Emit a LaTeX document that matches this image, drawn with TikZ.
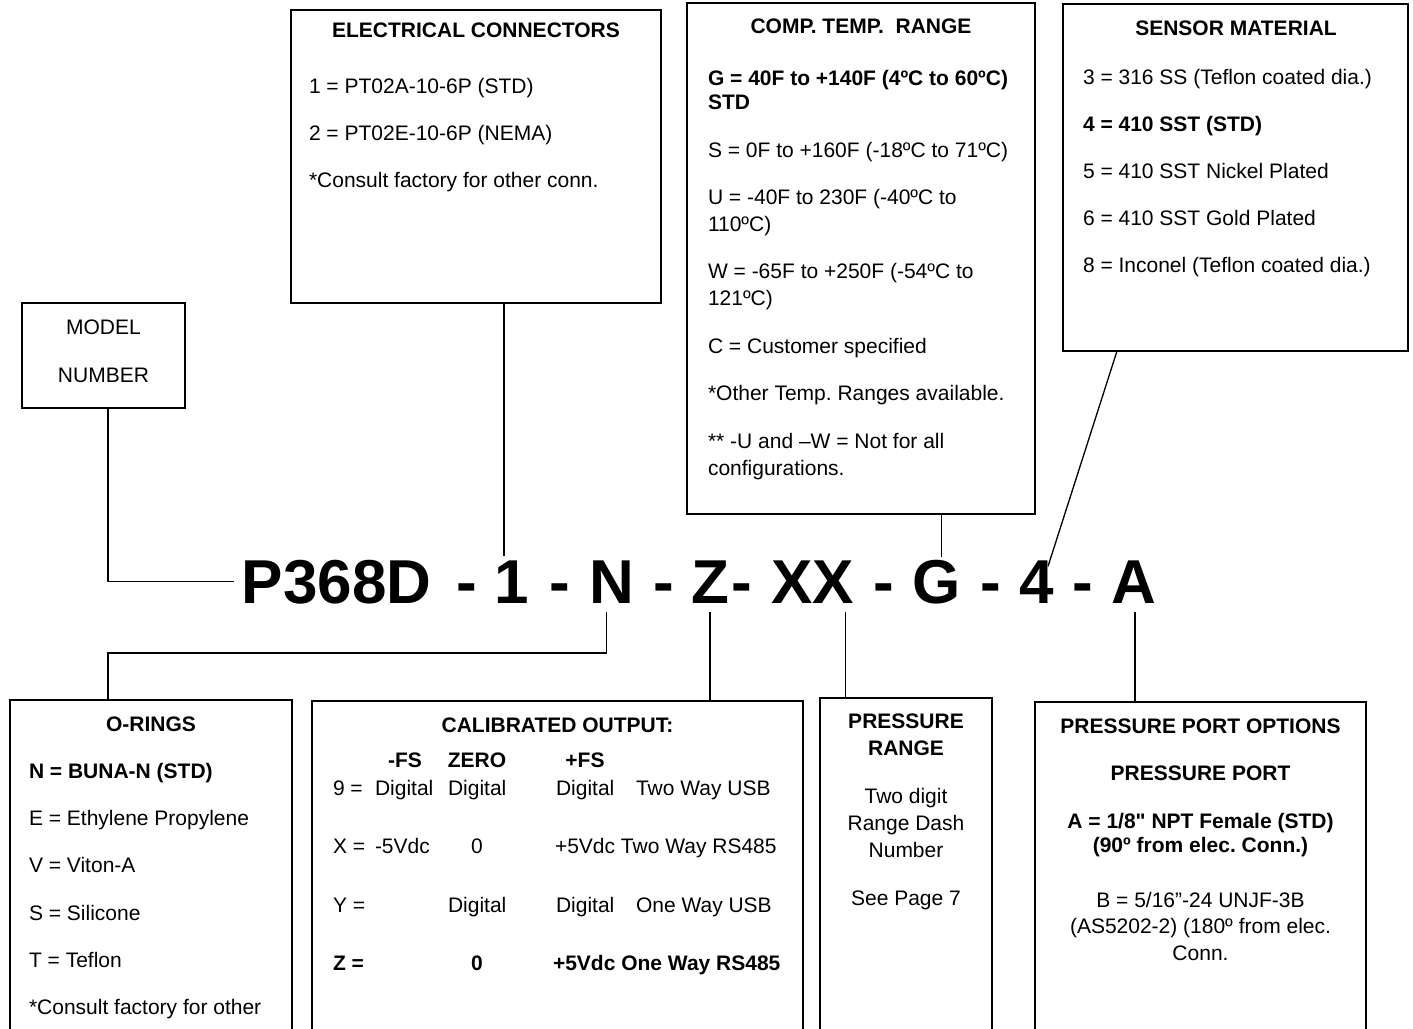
\documentclass[tikz,border=0pt]{standalone}
\usepackage{fontspec}
\setmainfont{Liberation Sans}[Ligatures=TeXOff]
\begin{document}
\frenchspacing
\begin{tikzpicture}[x=1pt,y=-1pt,
  box/.style={draw, line width=1.5pt, inner sep=0pt, outer sep=0pt, anchor=north west},
  lt/.style={inner sep=0pt, outer sep=0pt, anchor=base west, font=\fontsize{21}{25}\selectfont},
  lb/.style={inner sep=0pt, outer sep=0pt, anchor=base west, font=\fontsize{21}{25}\selectfont\bfseries},
  ct/.style={inner sep=0pt, outer sep=0pt, anchor=base, font=\fontsize{21}{25}\selectfont},
  cb/.style={inner sep=0pt, outer sep=0pt, anchor=base, font=\fontsize{21}{25}\selectfont\bfseries},
  big/.style={inner sep=0pt, outer sep=0pt, anchor=base, font=\fontsize{62}{70}\selectfont\bfseries},
  conn/.style={line width=1.3pt}]
\useasboundingbox (0,0) rectangle (1413,1028);
\clip (0,0) rectangle (1413,1028);
\fill[white] (0,0) rectangle (1413,1028);

% ---- model number
\node[box, minimum width=163pt, minimum height=105pt] (model) at (22,303) {};
\node[ct] (modelA) at (103.5,334) {MODEL};
\node[ct] (modelB) at (103.5,382) {NUMBER};

% ---- electrical connectors
\node[box, minimum width=370pt, minimum height=293pt] (ec) at (291,10) {};
\node[cb] (ecT) at (476,37) {ELECTRICAL CONNECTORS};
\node[lt] (ec1) at (309,93) {1 = PT02A-10-6P (STD)};
\node[lt] (ec2) at (309,140) {2 = PT02E-10-6P (NEMA)};
\node[lt] (ec3) at (309,187) {*Consult factory for other conn.};

% ---- comp temp range
\node[box, minimum width=348pt, minimum height=511pt] (temp) at (687,3) {};
\node[cb] (tpT) at (861,33) {COMP. TEMP.\ \ RANGE};
\node[lb] (tp1) at (708,85) {G = 40F to +140F (4ºC to 60ºC)};
\node[lb] (tp2) at (708,109) {STD};
\node[lt] (tp3) at (708,157) {S = 0F to +160F (-18ºC to 71ºC)};
\node[lt] (tp4) at (708,204) {U = -40F to 230F (-40ºC to};
\node[lt] (tp5) at (708,231) {110ºC)};
\node[lt] (tp6) at (708,278) {W = -65F to +250F (-54ºC to};
\node[lt] (tp7) at (708,305) {121ºC)};
\node[lt] (tp8) at (708,353) {C = Customer specified};
\node[lt] (tp9) at (708,400) {*Other Temp. Ranges available.};
\node[lt] (tp10) at (708,448) {** -U and –W = Not for all};
\node[lt] (tp11) at (708,475) {configurations.};

% ---- sensor material
\node[box, minimum width=345pt, minimum height=347pt] (sensor) at (1063,4) {};
\node[cb] (snT) at (1236,35) {SENSOR MATERIAL};
\node[lt] (sn1) at (1083,84) {3 = 316 SS (Teflon coated dia.)};
\node[lb] (sn2) at (1083,131) {4 = 410 SST (STD)};
\node[lt] (sn3) at (1083,178) {5 = 410 SST Nickel Plated};
\node[lt] (sn4) at (1083,225) {6 = 410 SST Gold Plated};
\node[lt] (sn5) at (1083,272) {8 = Inconel (Teflon coated dia.)};

% ---- o-rings
\node[box, minimum width=282pt, minimum height=345pt] (oring) at (10,700) {};
\node[cb] (orT) at (151,731) {O-RINGS};
\node[lb] (or1) at (29,778) {N = BUNA-N (STD)};
\node[lt] (or2) at (29,825) {E = Ethylene Propylene};
\node[lt] (or3) at (29,872) {V = Viton-A};
\node[lt] (or4) at (29,920) {S = Silicone};
\node[lt] (or5) at (29,967) {T = Teflon};
\node[lt] (or6) at (29,1014) {*Consult factory for other};

% ---- calibrated output
\node[box, minimum width=491pt, minimum height=345pt] (cal) at (312,701) {};
\node[cb] (caT) at (557.5,732) {CALIBRATED OUTPUT:};
\node[cb] (caH1) at (405,767) {-FS};
\node[cb] (caH2) at (477,767) {ZERO};
\node[cb] (caH3) at (585,767) {+FS};
\node[lt] (ca9a) at (333,795) {9 =};
\node[lt] (ca9b) at (375,795) {Digital};
\node[lt] (ca9c) at (448,795) {Digital};
\node[lt] (ca9d) at (556,795) {Digital};
\node[lt] (ca9e) at (636,795) {Two Way USB};
\node[lt] (caXa) at (333,853) {X =};
\node[lt] (caXb) at (375,853) {-5Vdc};
\node[ct] (caXc) at (477,853) {0};
\node[lt] (caXd) at (555,853) {+5Vdc Two Way RS485};
\node[lt] (caYa) at (333,912) {Y =};
\node[lt] (caYc) at (448,912) {Digital};
\node[lt] (caYd) at (556,912) {Digital};
\node[lt] (caYe) at (636,912) {One Way USB};
\node[lb] (caZa) at (333,970) {Z =};
\node[cb] (caZc) at (477,970) {0};
\node[lb] (caZd) at (553,970) {+5Vdc One Way RS485};

% ---- pressure range
\node[box, minimum width=172pt, minimum height=347pt] (range) at (820,698) {};
\node[cb] (rgT1) at (906,728) {PRESSURE};
\node[cb] (rgT2) at (906,755) {RANGE};
\node[ct] (rg1) at (906,803) {Two digit};
\node[ct] (rg2) at (906,830) {Range Dash};
\node[ct] (rg3) at (906,857) {Number};
\node[ct] (rg4) at (906,905) {See Page 7};

% ---- pressure port
\node[box, minimum width=331pt, minimum height=343pt] (port) at (1035,702) {};
\node[cb] (ptT1) at (1200.5,733) {PRESSURE PORT OPTIONS};
\node[cb] (ptT2) at (1200.5,780) {PRESSURE PORT};
\node[cb] (pt1) at (1200.5,828) {A = 1/8" NPT Female (STD)};
\node[cb] (pt2) at (1200.5,852) {(90º from elec. Conn.)};
\node[ct] (pt3) at (1200.5,907) {B = 5/16”-24 UNJF-3B};
\node[ct] (pt4) at (1200.5,933) {(AS5202-2) (180º from elec.};
\node[ct] (pt5) at (1200.5,960) {Conn.};

% ---- model number string
\node[big] (tP) at (336.7,603) {P368D};
\node[big] (d1) at (466.7,603) {-};
\node[big] (t1) at (512,603) {1};
\node[big] (d2) at (560,603) {-};
\node[big] (tN) at (611.7,603) {N};
\node[big] (d3) at (664,603) {-};
\node[big] (tZ) at (710,603) {Z};
\node[big] (d4) at (742,603) {-};
\node[big] (tXX) at (812.5,603) {XX};
\node[big] (d5) at (884,603) {-};
\node[big] (tG) at (936.5,603) {G};
\node[big] (d6) at (991,603) {-};
\node[big] (t4) at (1037,603) {4};
\node[big] (d7) at (1082.5,603) {-};
\node[big] (tA) at (1134,603) {A};

% ---- connectors
\coordinate (cM) at ([xshift=4.5pt]model.south);
\coordinate (cP) at ([xshift=-8pt]tP.west);
\draw[conn] (cM) |- (cP);

\coordinate (c1) at ([xshift=-8pt,yshift=4pt]t1.north);
\draw[conn] (c1 |- ec.south) -- (c1);

\coordinate (cG) at ([xshift=5pt,yshift=3pt]tG.north);
\draw[conn] (cG |- temp.south) -- (cG);

\coordinate (cS) at ([xshift=54pt]sensor.south west);
\coordinate (c4) at ([xshift=11pt,yshift=-6pt]t4.north);
\draw[conn] (cS) -- (c4);

\coordinate (cN) at ([xshift=-5pt,yshift=-9pt]tN.south);
\coordinate (cO) at ([xshift=98pt]oring.north west);
\draw[conn] (cN) |- ([yshift=47pt]cO) -- (cO);

\coordinate (cZ) at ([yshift=-9pt]tZ.south);
\draw[conn] (cZ) -- (cZ |- cal.north);

\coordinate (cX) at ([xshift=33pt,yshift=-9pt]tXX.south);
\draw[conn] (cX) -- (cX |- range.north);

\coordinate (cA) at ([xshift=1pt,yshift=-9pt]tA.south);
\draw[conn] (cA) -- (cA |- port.north);
\end{tikzpicture}
\end{document}
